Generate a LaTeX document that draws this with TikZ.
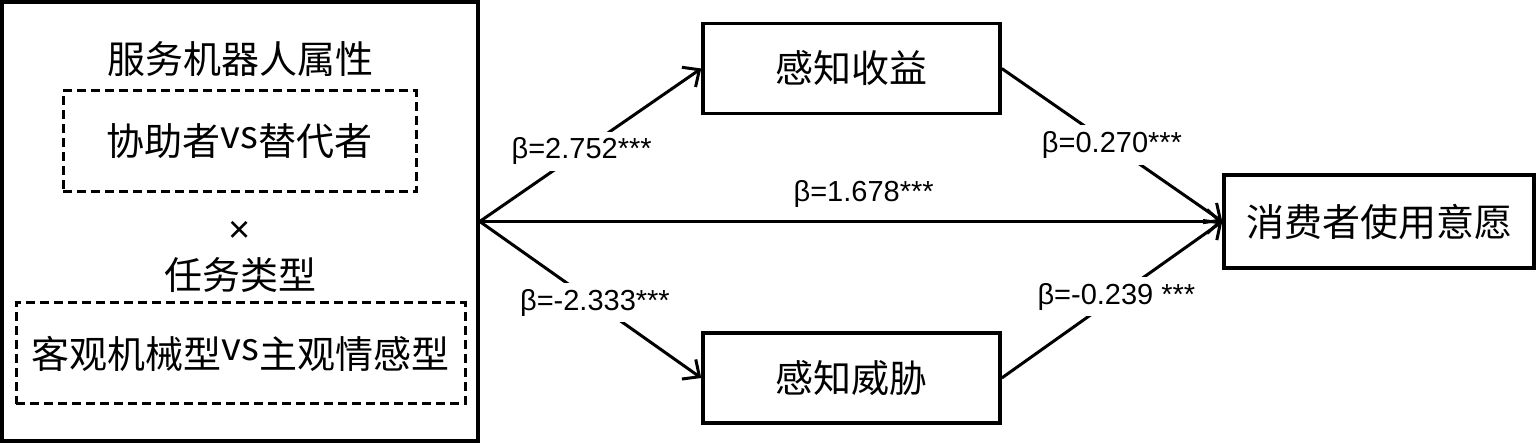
\documentclass[tikz,border=0pt]{standalone}
\usepackage{fontspec}
\setmainfont{Liberation Sans}
\newfontfamily\cjk{Noto Sans CJK SC}
\usetikzlibrary{arrows.meta}
\newcommand\vsmark{\raisebox{0.2em}{vs}}
\begin{document}
\begin{tikzpicture}[x=1pt,y=-1pt,
  cjkfont/.style={font=\cjk\fontsize{38}{40}\selectfont},
  box/.style={draw, line width=3.5pt, minimum width=297pt, minimum height=90pt, inner sep=0pt, cjkfont},
  dbox/.style={draw, line width=3pt, dash pattern=on 9pt off 5pt, minimum height=101pt, inner sep=0pt, cjkfont},
  txt/.style={inner sep=0pt, cjkfont},
  arr/.style={line width=3pt, -{Straight Barb[length=13pt,width=24pt,line width=3pt]}},
  lab/.style={fill=white, inner sep=6pt, font=\fontsize{29}{31}\selectfont},
]
\useasboundingbox (0,0) rectangle (1537,443);
% left big box
\node[draw, line width=3.5pt, minimum width=476pt, minimum height=439pt, inner sep=0pt] (iv) at (240,221.5) {};
\node[txt] (t1) at (240,59) {服务机器人属性};
\node[dbox, minimum width=353pt] (d1) at (239.5,141.5) {协助者\vsmark 替代者};
\node[inner sep=0pt, font=\fontsize{38}{40}\selectfont] (x) at (240,232) {×};
\node[txt] (t2) at (240,275) {任务类型};
\node[dbox, minimum width=449pt] (d2) at (240.5,353.5) {客观机械型\vsmark 主观情感型};
% mediators and outcome
\node[box] (b1) at (851.5,68.5) {感知收益};
\node[box] (b2) at (851.5,378) {感知威胁};
\node[box, minimum width=310pt, minimum height=93pt] (dv) at (1379,221.5) {消费者使用意愿};
% arrows
\draw[arr] (iv.east) -- (b1.west) node[lab, pos=0.46] {β=2.752***};
\draw[arr] (iv.east) -- (b2.west) node[lab, pos=0.52] {β=-2.333***};
\draw[arr] (iv.east) -- (dv.west) node[pos=0.517, above=12pt, inner sep=0pt, font=\fontsize{29}{31}\selectfont] {β=1.678***};
\draw[arr] (b1.east) -- (dv.west) node[lab, pos=0.5] {β=0.270***};
\draw[arr] (b2.east) -- (dv.west) node[lab, pos=0.52] {β=-0.239 ***};
\end{tikzpicture}
\end{document}
